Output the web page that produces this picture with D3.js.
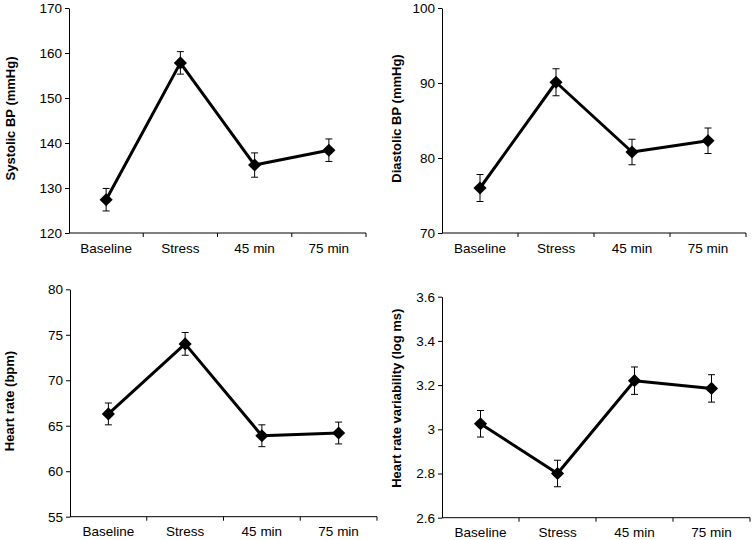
<!DOCTYPE html>
<html><head><meta charset="utf-8">
<script src="https://cdn.jsdelivr.net/npm/d3@7"></script>
<style>body{margin:0;background:#fff}svg{display:block}</style>
</head><body>
<svg id="c" width="753" height="540"></svg>
<script>
const categories = ["Baseline", "Stress", "45 min", "75 min"];
const systolic = [127.4, 157.8, 135.1, 138.4];
const systolicErr = [2.5, 2.5, 2.7, 2.5];
const diastolic = [76.0, 90.1, 80.8, 82.3];
const diastolicErr = [1.8, 1.8, 1.7, 1.7];
const heartRate = [66.3, 74.0, 63.9, 64.2];
const heartRateErr = [1.2, 1.25, 1.2, 1.2];
const hrv = [3.025, 2.80, 3.22, 3.185];
const hrvErr = [0.06, 0.06, 0.062, 0.062];
const sysTicks = [120, 130, 140, 150, 160, 170];
const diaTicks = [70, 80, 90, 100];
const hrTicks = [55, 60, 65, 70, 75, 80];
const hrvTicks = [2.6, 2.8, 3.0, 3.2, 3.4, 3.6];
const hrvTickLabels = ["2.6", "2.8", "3", "3.2", "3.4", "3.6"];

const panels = [
  {vals: systolic, err: systolicErr, ticks: sysTicks, labels: sysTicks.map(String), title: "Systolic BP (mmHg)",
   x0: 69, x1: 366, yT: 8, yB: 233, tx: 10, ty: -2},
  {vals: diastolic, err: diastolicErr, ticks: diaTicks, labels: diaTicks.map(String), title: "Diastolic BP (mmHg)",
   x0: 442, x1: 746, yT: 8, yB: 233, tx: 396, ty: -2},
  {vals: heartRate, err: heartRateErr, ticks: hrTicks, labels: hrTicks.map(String), title: "Heart rate (bpm)",
   x0: 70, x1: 377, yT: 289.3, yB: 516.7, tx: 9.5, ty: -2},
  {vals: hrv, err: hrvErr, ticks: hrvTicks, labels: hrvTickLabels, title: "Heart rate variability (log ms)",
   x0: 442, x1: 750, yT: 296.7, yB: 517.7, tx: 396.5, ty: -9}
];

const svg = d3.select("#c");
const font = "Liberation Sans, Arial, sans-serif";

panels.forEach(p => {
  const x = d3.scaleBand().domain(categories).range([p.x0, p.x1]);
  const y = d3.scaleLinear().domain([p.ticks[0], p.ticks[p.ticks.length-1]]).range([p.yB, p.yT]);
  const g = svg.append("g");

  // y axis
  const ya = g.append("g").attr("transform", `translate(${p.x0},0)`)
    .call(d3.axisLeft(y).tickValues(p.ticks).tickFormat((d,i)=>p.labels[i]).tickSize(4).tickPadding(3).tickSizeOuter(0));
  ya.select(".domain").attr("stroke", "#000").attr("stroke-width", 1);
  ya.selectAll(".tick line").attr("stroke", "#000");
  ya.selectAll("text").attr("font-family", font).attr("font-size", 13.5).attr("fill", "#000");

  // x axis: ticks at band boundaries
  const xa = g.append("g").attr("transform", `translate(0,${p.yB})`)
    .call(d3.axisBottom(x).tickSize(0).tickPadding(10));
  xa.select(".domain").attr("stroke", "#000").attr("d", `M${p.x0},0H${p.x1}`);
  xa.selectAll("text").attr("font-family", font).attr("font-size", 13.5).attr("fill", "#000");
  categories.forEach((c, i) => {
    if (i === 0) return;
    const bx = x(c);
    xa.append("line").attr("x1", bx).attr("x2", bx).attr("y1", 0).attr("y2", 4).attr("stroke", "#000");
  });
  xa.append("line").attr("x1", p.x1).attr("x2", p.x1).attr("y1", 0).attr("y2", 4).attr("stroke", "#000");

  // axis title
  g.append("text")
    .attr("transform", `translate(${p.tx},${(p.yT+p.yB)/2 + p.ty}) rotate(-90)`)
    .attr("text-anchor", "middle").attr("dominant-baseline", "central")
    .attr("font-family", font).attr("font-size", 13).attr("font-weight", "bold")
    .text(p.title);

  const cx = c => x(c) + x.bandwidth()/2;

  // error bars
  categories.forEach((c, i) => {
    const v = p.vals[i], e = p.err[i];
    const eg = g.append("g").attr("stroke", "#000").attr("stroke-width", 1);
    eg.append("line").attr("x1", cx(c)).attr("x2", cx(c)).attr("y1", y(v+e)).attr("y2", y(v-e));
    eg.append("line").attr("x1", cx(c)-3.5).attr("x2", cx(c)+3.5).attr("y1", y(v+e)).attr("y2", y(v+e));
    eg.append("line").attr("x1", cx(c)-3.5).attr("x2", cx(c)+3.5).attr("y1", y(v-e)).attr("y2", y(v-e));
  });

  // line
  const line = d3.line().x((d,i)=>cx(categories[i])).y(d=>y(d));
  g.append("path").datum(p.vals).attr("d", line).attr("fill", "none")
    .attr("stroke", "#000").attr("stroke-width", 3).attr("stroke-linejoin", "round");

  // markers
  g.selectAll(".m").data(p.vals).enter().append("path")
    .attr("d", d3.symbol().type(d3.symbolDiamond2).size(110))
    .attr("transform", (d,i)=>`translate(${cx(categories[i])},${y(d)})`)
    .attr("fill", "#000");
});
</script>
</body></html>
